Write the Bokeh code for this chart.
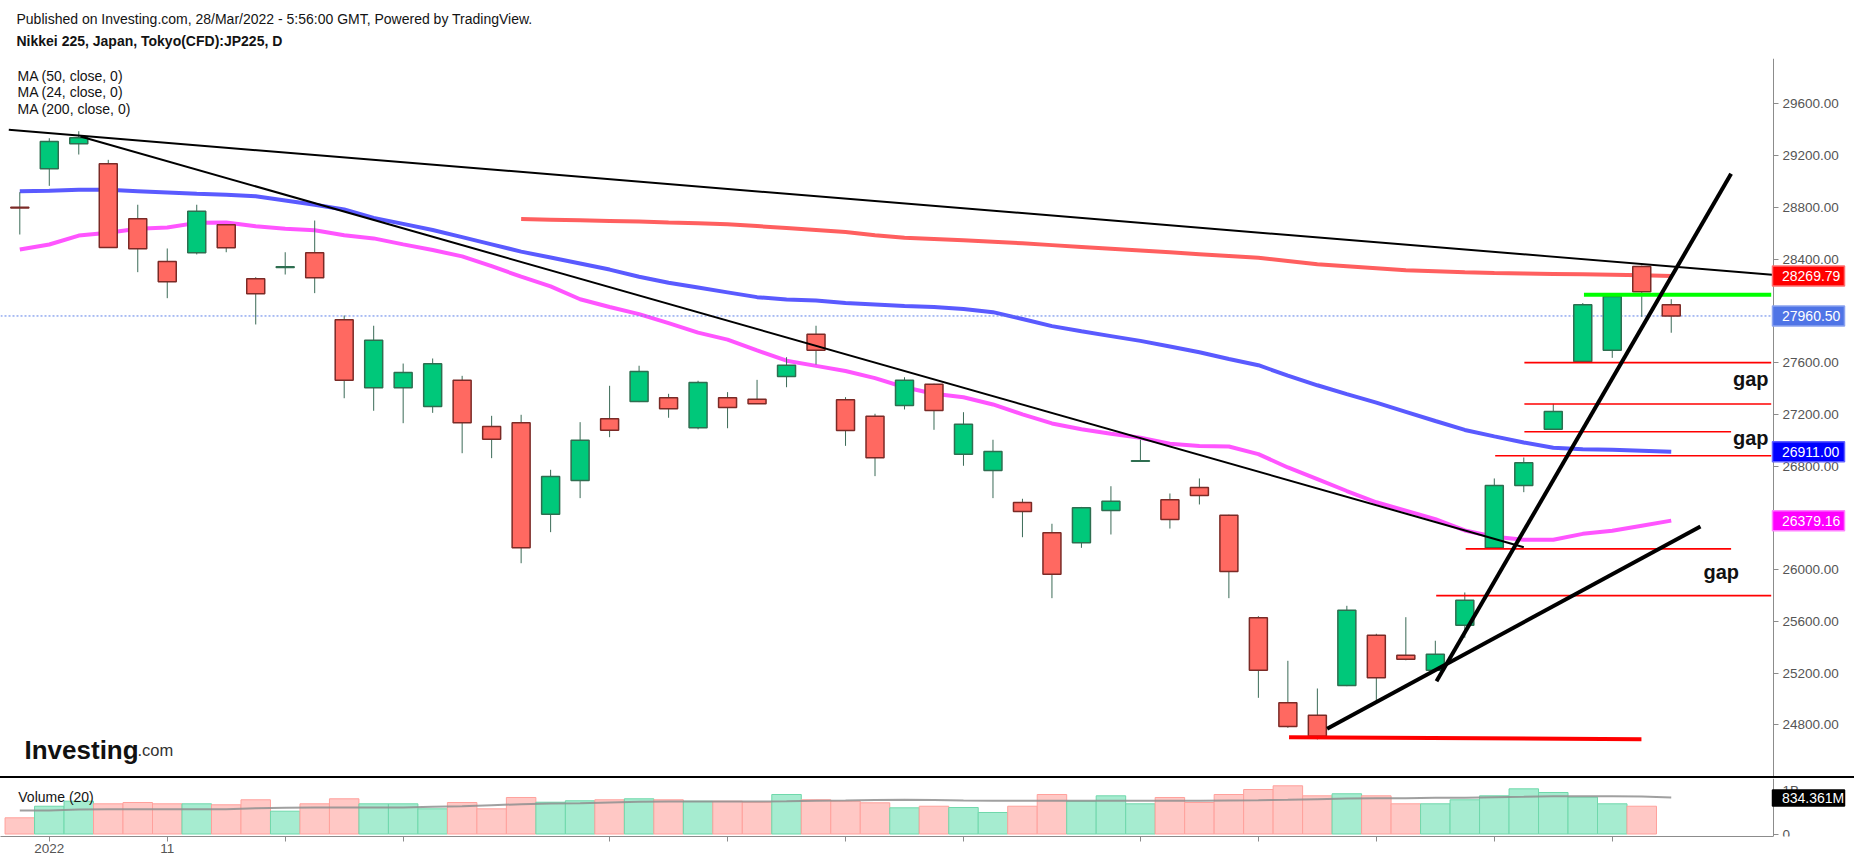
from bokeh.plotting import figure
from bokeh.models import (ColumnDataSource, Range1d, FixedTicker, Label, LinearAxis,
                          PrintfTickFormatter, Spacer, BoxAnnotation)
from bokeh.layouts import column
from bokeh.embed import file_html
from bokeh.resources import INLINE

NaN = float("nan")

# ---------------- data ----------------
opens = [28800, 29098, 29291, 29136, 28711, 28381, 28449, 28665, 28248, 28335,
         28449, 27931, 27406, 27406, 27261, 27464, 27106, 27135, 26429, 26689,
         27166, 27300, 27328, 27096, 27328, 27317, 27493, 27820, 27313, 27186,
         27269, 27433, 26892, 26766, 26519, 26285, 26208, 26457, 26838, 26540,
         26635, 26421, 25628, 24972, 24876, 25105, 25494, 25339, 25223, 25571,
         26169, 26651, 27086, 27609, 27696, 28343, 28047]
highs = [28917, 29334, 29388, 29167, 28820, 28482, 28820, 28668, 28260, 28453,
         28698, 27964, 27885, 27593, 27632, 27498, 27189, 27197, 26772, 27140,
         27421, 27576, 27359, 27460, 27372, 27467, 27642, 27885, 27333, 27205,
         27487, 27437, 27217, 27004, 26548, 26355, 26485, 26645, 27004, 26589,
         26705, 26425, 25641, 25296, 25082, 25721, 25505, 25633, 25451, 25824,
         26705, 26867, 27282, 28060, 28115, 28350, 28090]
lows = [28590, 28966, 29208, 28490, 28299, 28098, 28436, 28453, 27895, 28281,
        28137, 27325, 27228, 27132, 27212, 26900, 26862, 26050, 26290, 26553,
        27024, 27295, 27174, 27085, 27093, 27282, 27410, 27586, 26957, 26723,
        27238, 27081, 26803, 26553, 26251, 25780, 26169, 26272, 26836, 26318,
        26504, 25780, 25010, 24778, 24688, 25100, 24968, 25300, 25220, 25474,
        26165, 26599, 27080, 27605, 27637, 27954, 27831]
closes = [28795, 29309, 29337, 28490, 28480, 28225, 28770, 28487, 28132, 28340,
          28255, 27464, 27773, 27524, 27591, 27135, 27008, 26169, 26720, 27001,
          27078, 27531, 27243, 27446, 27253, 27282, 27580, 27696, 27076, 26865,
          27464, 27230, 27124, 26913, 26450, 25965, 26478, 26529, 26841, 26388,
          26573, 25986, 25223, 24788, 24713, 25687, 25165, 25308, 25347, 25764,
          26651, 26826, 27222, 28047, 28111, 28147, 27960.5]

ma50 = [28925, 28928, 28935, 28935, 28925, 28915, 28905, 28897, 28886, 28853,
        28820, 28783, 28718, 28672, 28625, 28570, 28514, 28458, 28412, 28366,
        28319, 28264, 28217, 28180, 28143, 28106, 28087, 28080, 28060, 28049,
        28038, 28030, 28015, 27990, 27937, 27882, 27842, 27805, 27768, 27725,
        27680, 27628, 27580, 27500, 27425, 27357, 27291, 27220, 27149, 27080,
        27030, 26983, 26942, 26930, 26926, 26920, 26911]
ma24 = [28474, 28513, 28582, 28603, 28634, 28644, 28680, 28683, 28654, 28634,
        28623, 28585, 28560, 28514, 28470, 28421, 28345, 28264, 28189, 28090,
        28030, 27975, 27905, 27832, 27778, 27694, 27615, 27575, 27535, 27480,
        27410, 27360, 27333, 27277, 27200, 27130, 27085, 27050, 27020, 26973,
        26956, 26952, 26893, 26790, 26700, 26608, 26521, 26456, 26391, 26303,
        26254, 26231, 26231, 26277, 26301, 26340, 26379.16]
ma200 = [NaN] * 17 + [
        28710, 28705, 28700, 28695, 28690, 28683, 28677, 28670, 28655, 28640,
        28625, 28610, 28585, 28565, 28555, 28545, 28535, 28522, 28508, 28494,
        28480, 28466, 28452, 28438, 28424, 28410, 28385, 28360, 28345, 28330,
        28314, 28306, 28298, 28292, 28288, 28285, 28282, 28279, 28275, 28269.79]

volume_m = [375, 643, 759, 699, 729, 699, 699, 676, 792, 528,
            699, 815, 699, 699, 583, 729, 583, 845, 736, 769,
            792, 815, 792, 759, 759, 736, 914, 792, 759, 722,
            606, 643, 613, 498, 643, 914, 759, 884, 699, 845,
            729, 914, 1030, 1116, 884, 931, 884, 699, 699, 792,
            884, 1046, 961, 852, 699, 643, NaN]
volume_ma20_m = [544, 544, 567, 574, 574, 574, 574, 574, 597, 606,
                 613, 613, 613, 613, 630, 644, 667, 690, 706, 713,
                 729, 745, 752, 752, 752, 752, 759, 769, 775, 785,
                 790, 785, 775, 770, 770, 770, 770, 770, 770, 770,
                 770, 775, 780, 792, 806, 822, 829, 829, 838, 838,
                 852, 861, 875, 875, 875, 868, 845]

x_tick_candles = [1, 5, 9, 13, 20, 24, 28, 32, 38, 42, 46, 50, 54]
x_tick_labels = ["2022", "11", "", "", "", "", "", "", "", "", "", "", ""]
price_ticks = [24800, 25200, 25600, 26000, 26400, 26800, 27200, 27600,
               28000, 28400, 28800, 29200, 29600]
volume_ticks = [0, 1000]
volume_tick_labels = ["0", "1B"]

# drawn lines (bar index, price)
thin_trend_x0 = [-0.373, 2.058]
thin_trend_y0 = [29399, 29347]
thin_trend_x1 = [59.42, 51.0]
thin_trend_y1 = [28279, 26174]
thick_trend_x0 = [48.04, 44.33]
thick_trend_y0 = [25138, 24771]
thick_trend_x1 = [58.03, 56.99]
thick_trend_y1 = [29059, 26334]
gap_levels = [27600, 27280, 27066, 26880, 26161, 25800]
gap_start = [51.02, 51.02, 51.02, 50.03, 49.03, 48.03]
gap_end = [59.39, 59.39, 58.03, 59.39, 58.03, 59.39]
support_x = [43.04, 54.99]
support_y = [24706, 24690]
resist_x = [53.04, 59.39]
resist_y = [28124, 28124]

last_price = 27960.5
ma_last = {"ma200": 28269.79, "ma50": 26911.00, "ma24": 26379.16}
vol_label_value = 834.361

# ---------------- pixel helpers (annotation placement only) ----------------
PX_PER_BAR = 29.49
PRICE_PER_PX = 7.727
VOL_PER_PX = 1000 / 43.2


def px_x(xp):
    return (xp - 19.3) / PX_PER_BAR


def px_price(yp):
    return 29600 - (yp - 103.3) * PRICE_PER_PX


def px_vol(yp):
    return (833.5 - yp) * VOL_PER_PX


W = 1854
AXIS_X = 1773
FONT = "Liberation Sans"
AX_COL = "#8c8c8c"
LBL_COL = "#555555"
TXT = "#131313"

n = len(opens)
idx = list(range(n))
inc = [c >= o for o, c in zip(opens, closes)]
src = ColumnDataSource(dict(
    x=idx, o=opens, h=highs, l=lows, c=closes,
    top=[max(o, c) for o, c in zip(opens, closes)],
    bottom=[min(o, c) for o, c in zip(opens, closes)],
    fill=["#00c87a" if i else "#ff6961" for i in inc],
    edge=["#2e6e50" if i else "#7b2a26" for i in inc],
    vfill=["#a6ecd0" if i else "#ffc8c5" for i in inc],
    vedge=["#6fd8ab" if i else "#ffa19c" for i in inc],
    vol=volume_m, volma=volume_ma20_m,
    ma50=ma50, ma24=ma24, ma200=ma200,
))

x_range = Range1d(px_x(0), px_x(W))


def add_text(fig, x, y, text, size, color=TXT, style="normal",
             baseline="alphabetic", align="left"):
    fig.add_layout(Label(x=x, y=y, text=text, text_font=FONT, text_font_size=size,
                         text_color=color, text_font_style=style,
                         text_baseline=baseline, text_align=align))


def style_axis(a):
    a.major_label_text_font = FONT
    a.major_label_text_font_size = "13.5px"
    a.major_label_text_color = LBL_COL
    a.axis_line_color = AX_COL
    a.major_tick_line_color = AX_COL
    a.major_tick_out = 5
    a.major_tick_in = 0
    a.minor_tick_line_color = None


def value_box(fig, y, text, bg, border, half_h):
    fig.add_layout(BoxAnnotation(left=px_x(AXIS_X - 1), right=px_x(1844),
                                 bottom=y - half_h, top=y + half_h,
                                 fill_color=bg, fill_alpha=1.0,
                                 line_color=border, line_width=1.5, line_alpha=1.0))
    fig.add_layout(Label(x=px_x(1781.5), y=y, text=text, text_font=FONT,
                         text_font_size="14px", text_color="white",
                         text_baseline="middle", text_align="left"))


# ---------------- header ----------------
hdr = figure(width=W, height=58, x_range=Range1d(0, W), y_range=Range1d(58, 0),
             output_backend="svg", toolbar_location=None,
             x_axis_location=None, y_axis_location=None,
             min_border=0, outline_line_color=None)
hdr.grid.visible = False
add_text(hdr, 16, 18.2,
         "Published on Investing.com, 28/Mar/2022 - 5:56:00 GMT, Powered by TradingView.",
         "14px")
add_text(hdr, 16, 40.5, "Nikkei 225, Japan, Tokyo(CFD):JP225, D", "14px", TXT, "bold")

# ---------------- price pane ----------------
p = figure(width=W, height=718, x_range=x_range,
           y_range=Range1d(px_price(776), px_price(58)),
           output_backend="svg", toolbar_location=None,
           x_axis_location=None, y_axis_location=None,
           min_border=0, outline_line_color=None)
p.grid.visible = False
ax = LinearAxis(fixed_location=px_x(AXIS_X), ticker=FixedTicker(ticks=price_ticks),
                formatter=PrintfTickFormatter(format="%.2f"))
style_axis(ax)
ax.major_label_standoff = 4
p.add_layout(ax, "right")

# moving averages (behind candles)
p.line("x", "ma200", source=src, line_color="#ff5f5f", line_width=4)
p.line("x", "ma50", source=src, line_color="#5a5aff", line_width=4)
p.line("x", "ma24", source=src, line_color="#ff55ff", line_width=4)

# last price dotted line
p.line([px_x(0), px_x(AXIS_X)], [last_price, last_price], line_color="#5b7fe8",
       line_dash="2 2", line_width=1)

# candles
p.segment(x0="x", y0="h", x1="x", y1="l", source=src, line_color="#3b6b57", line_width=1)
p.vbar(x="x", width=0.61, top="top", bottom="bottom", source=src,
       fill_color="fill", line_color="edge", line_width=1.5)

# drawings
p.segment(x0=thin_trend_x0, y0=thin_trend_y0, x1=thin_trend_x1, y1=thin_trend_y1,
          line_color="black", line_width=2)
p.segment(x0=gap_start, y0=gap_levels, x1=gap_end, y1=gap_levels,
          line_color="#ff0000", line_width=1.6)
p.line(support_x, support_y, line_color="#ff0000", line_width=4)
p.line(resist_x, resist_y, line_color="#00ff00", line_width=4)
p.segment(x0=thick_trend_x0, y0=thick_trend_y0, x1=thick_trend_x1, y1=thick_trend_y1,
          line_color="black", line_width=4)

# legend texts
for k, t in enumerate(["MA (50, close, 0)", "MA (24, close, 0)", "MA (200, close, 0)"]):
    add_text(p, px_x(17), px_price(75 + 16.5 * k), t, "14px")

# gap notes
add_text(p, px_x(1732.5), px_price(378), "gap", "20px", "#111111", "bold")
add_text(p, px_x(1732.5), px_price(437.5), "gap", "20px", "#111111", "bold")
add_text(p, px_x(1703), px_price(571), "gap", "20px", "#111111", "bold")

# logo
add_text(p, px_x(24), px_price(749), "Investing", "26px", "#111111", "bold")
add_text(p, px_x(137), px_price(749), ".com", "16.5px", "#333333")

# value boxes on the price scale
BOX_H = 10 * PRICE_PER_PX
value_box(p, ma_last["ma200"], "28269.79", "#ff0000", "#ff7070", BOX_H)
value_box(p, last_price, "27960.50", "#4f74e6", "#8aa2f0", BOX_H)
value_box(p, ma_last["ma50"], "26911.00", "#0000ff", "#6060ff", BOX_H)
value_box(p, ma_last["ma24"], "26379.16", "#ff00ff", "#ff80ff", BOX_H)

# ---------------- separator ----------------
sep = Spacer(width=W, height=2, styles={"background-color": "#000000"})

# ---------------- volume pane ----------------
v = figure(width=W, height=88, x_range=x_range,
           y_range=Range1d(px_vol(836), px_vol(778)),
           output_backend="svg", toolbar_location=None,
           y_axis_location=None,
           min_border_left=0, min_border_right=0, min_border_top=0,
           min_border_bottom=30, outline_line_color=None)
v.grid.visible = False
vx = v.xaxis[0]
vx.ticker = FixedTicker(ticks=x_tick_candles)
vx.major_label_overrides = {t: s for t, s in zip(x_tick_candles, x_tick_labels)}
vx.bounds = (px_x(0), px_x(AXIS_X))
style_axis(vx)
vx.major_label_standoff = 2
vy = LinearAxis(fixed_location=px_x(AXIS_X), ticker=FixedTicker(ticks=volume_ticks))
vy.major_label_overrides = {t: s for t, s in zip(volume_ticks, volume_tick_labels)}
style_axis(vy)
vy.major_label_standoff = 4
v.add_layout(vy, "right")

v.vbar(x="x", width=1.0, top="vol", bottom=0, source=src,
       fill_color="vfill", line_color="vedge", line_width=1)
v.line("x", "volma", source=src, line_color="#8f8f8f", line_width=2, line_alpha=0.85)
add_text(v, px_x(17.8), px_vol(796.5), "Volume (20)", "14px")
value_box(v, vol_label_value, "834.361M", "#000000", "#000000", 8 * VOL_PER_PX)

layout = column(hdr, p, sep, v)
open("out.html", "w").write(file_html(layout, INLINE))
